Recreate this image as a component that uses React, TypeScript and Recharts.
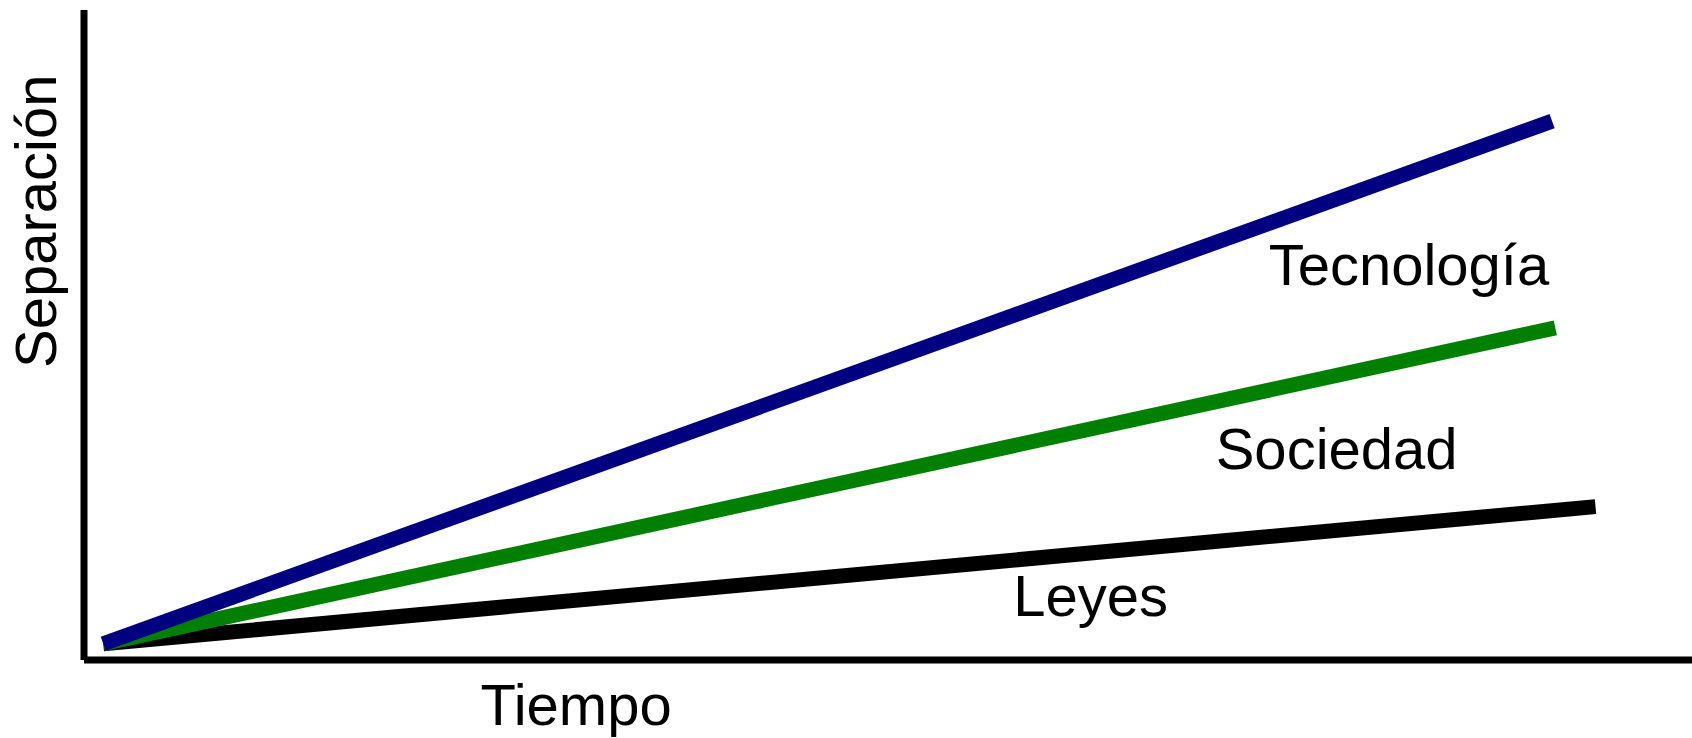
import React from "react";
import { LineChart, Line, XAxis, YAxis, ReferenceDot } from "recharts";

// Trend lines (x = time share, y = separation)
const tecnologia = [
  { x: 1.2, y: 2.5 },
  { x: 91.3, y: 82.9 },
];
const sociedad = [
  { x: 1.2, y: 2.5 },
  { x: 91.5, y: 51.1 },
];
const leyes = [
  { x: 1.2, y: 2.5 },
  { x: 94.0, y: 23.6 },
];

const seriesNames = ["Tecnología", "Sociedad", "Leyes"];
const seriesLabelPos = [
  { x: 82.4, y: 60.8 },
  { x: 77.9, y: 32.6 },
  { x: 62.6, y: 10.0 },
];
const xAxisTitle = "Tiempo";
const yAxisTitle = "Separación";
const xTitlePos = { x: 30.6, y: -6.9 };
const yTitlePos = { x: -3.05, y: 67.5 };

const FONT = "'Liberation Sans', Arial, sans-serif";
const labelStyle = { fontSize: 58, fill: "#000", fontFamily: FONT };

export default function App() {
  return (
    <div style={{ position: "absolute", left: 0, top: 0, background: "#fff" }}>
      <LineChart
        width={1692}
        height={738}
        margin={{ top: 10, right: 0, bottom: 0, left: 0 }}
      >
        <XAxis
          type="number"
          dataKey="x"
          domain={[0, 100]}
          height={78}
          tick={false}
          tickLine={false}
          axisLine={{ stroke: "#000", strokeWidth: 7 }}
        />
        <YAxis
          type="number"
          dataKey="y"
          domain={[0, 100]}
          width={84}
          tick={false}
          tickLine={false}
          axisLine={{ stroke: "#000", strokeWidth: 7 }}
        />
        <Line
          data={leyes}
          dataKey="y"
          type="linear"
          stroke="#000000"
          strokeWidth={15}
          dot={false}
          activeDot={false}
          isAnimationActive={false}
        />
        <Line
          data={sociedad}
          dataKey="y"
          type="linear"
          stroke="#008000"
          strokeWidth={15}
          dot={false}
          activeDot={false}
          isAnimationActive={false}
        />
        <Line
          data={tecnologia}
          dataKey="y"
          type="linear"
          stroke="#000080"
          strokeWidth={15}
          dot={false}
          activeDot={false}
          isAnimationActive={false}
        />
        {seriesNames.map((name, i) => (
          <ReferenceDot
            key={name}
            x={seriesLabelPos[i].x}
            y={seriesLabelPos[i].y}
            r={0}
            fill="none"
            stroke="none"
            ifOverflow="visible"
            label={{ value: name, position: "center", ...labelStyle }}
          />
        ))}
        <ReferenceDot
          x={xTitlePos.x}
          y={xTitlePos.y}
          r={0}
          fill="none"
          stroke="none"
          ifOverflow="visible"
          label={{ value: xAxisTitle, position: "center", ...labelStyle }}
        />
        <ReferenceDot
          x={yTitlePos.x}
          y={yTitlePos.y}
          r={0}
          fill="none"
          stroke="none"
          ifOverflow="visible"
          label={{ value: yAxisTitle, position: "center", angle: -90, ...labelStyle }}
        />
      </LineChart>
    </div>
  );
}
